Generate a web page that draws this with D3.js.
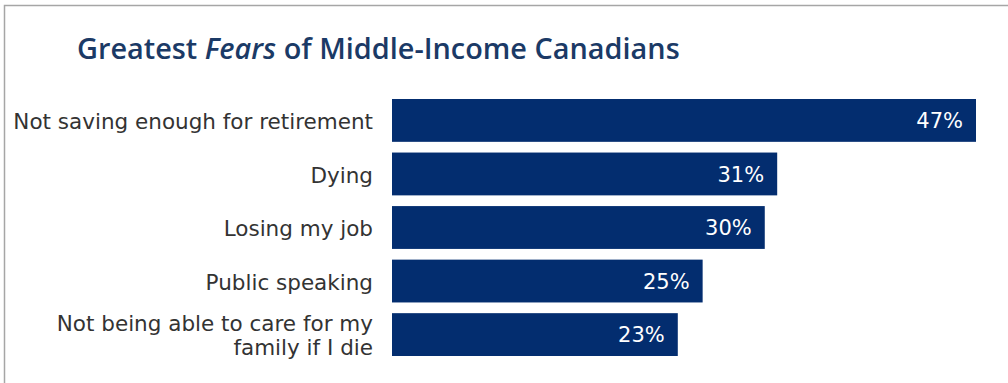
<!DOCTYPE html>
<html>
<head>
<meta charset="utf-8">
<script src="https://cdn.jsdelivr.net/npm/d3@7/dist/d3.min.js"></script>
<style>
  html, body { margin: 0; padding: 0; background: #fff; }
  svg { display: block; }
</style>
</head>
<body>
<svg id="chart" width="1008" height="383"></svg>
<script>
// Survey results: share of respondents naming each fear
const categories = [
  ["Not saving enough for retirement"],
  ["Dying"],
  ["Losing my job"],
  ["Public speaking"],
  ["Not being able to care for my", "family if I die"]
];
const values = [47, 31, 30, 25, 23];
const valueLabels = ["47%", "31%", "30%", "25%", "23%"];

const W = 1008, H = 383;
const navy = "#032d6f";
const svg = d3.select("#chart");

// frame: top and left rules
svg.append("path")
  .attr("d", `M4.5,${H} V5.5 H${W}`)
  .attr("fill", "none")
  .attr("stroke", "#a6a6a6")
  .attr("stroke-width", 1.5);

// title with italic emphasis, sized to span its slot
const titleWidth = 603;
const title = svg.append("text")
  .attr("x", 77).attr("y", 59)
  .attr("font-family", "'Open Sans', sans-serif")
  .attr("font-weight", 600)
  .attr("font-size", 28)
  .attr("fill", "#1b3a66");
title.append("tspan").text("Greatest ");
title.append("tspan").attr("font-style", "italic").text("Fears");
title.append("tspan").text(" of Middle-Income Canadians");
const tw = title.node().getComputedTextLength();
title.attr("font-size", 28 * titleWidth / tw);

const idx = d3.range(values.length);
const x = d3.scaleLinear().domain([0, 47]).range([392, 976]);
const y = d3.scaleBand().domain(idx).range([99, 356]).paddingInner(0.2).paddingOuter(0);

// bars
svg.append("g").selectAll("rect")
  .data(idx).join("rect")
  .attr("x", x(0))
  .attr("y", i => y(i))
  .attr("width", i => x(values[i]) - x(0))
  .attr("height", y.bandwidth())
  .attr("fill", navy);

// value labels inside bar ends
svg.append("g").selectAll("text")
  .data(idx).join("text")
  .attr("x", i => x(values[i]) - 13)
  .attr("y", i => y(i) + y.bandwidth() / 2)
  .attr("dy", "0.36em")
  .attr("text-anchor", "end")
  .attr("font-family", "'DejaVu Sans', sans-serif")
  .attr("font-size", 21)
  .attr("fill", "#ffffff")
  .text(i => valueLabels[i]);

// category labels, right-aligned against the bars
const lineH = 24;
svg.append("g").selectAll("text")
  .data(idx).join("text")
  .attr("text-anchor", "end")
  .attr("font-family", "'DejaVu Sans', sans-serif")
  .attr("font-size", 21.5)
  .attr("fill", "#333333")
  .each(function(i) {
    const lines = categories[i];
    const cy = y(i) + y.bandwidth() / 2 + 1;
    const first = cy - (lines.length - 1) * lineH / 2;
    d3.select(this).selectAll("tspan")
      .data(lines).join("tspan")
      .attr("x", 373)
      .attr("y", (d, k) => first + k * lineH)
      .attr("dy", "0.36em")
      .text(d => d);
  });
</script>
</body>
</html>
